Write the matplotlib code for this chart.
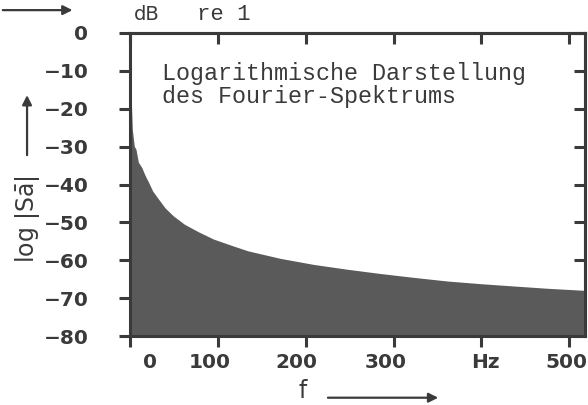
import matplotlib
matplotlib.use("Agg")
import matplotlib.pyplot as plt
import matplotlib.transforms as mtransforms
from matplotlib.patches import FancyArrowPatch

# Spectrum (frequency in Hz, level in dB re 1)
freq = [0, 0.6, 2.6, 4.9, 6.8, 9.5, 13.4, 17, 20.9, 26, 32.3, 40, 49.4,
        62, 78, 95, 116, 134, 171, 209, 248, 285, 322, 362, 400, 437,
        475, 514, 520]
level = [-8, -11.5, -25.4, -29.9, -30.7, -34.1, -35.5, -37.5, -39.3, -41.8,
         -43.8, -46.2, -48.3, -50.5, -52.5, -54.4, -56.1, -57.5, -59.5,
         -61.1, -62.4, -63.5, -64.5, -65.5, -66.2, -66.8, -67.4, -67.9, -68.0]

xticks = [0, 100, 200, 300, 400, 500]
xticklabels = ["0", "100", "200", "300", "Hz", "500"]
xlabel_shift = [20, -8, -9, -8, 4, -3]   # px, labels sit off their ticks
yticks = [0, -10, -20, -30, -40, -50, -60, -70, -80]

ink = "#3a3a3a"
fill_col = "#5a5a5a"

plt.rcParams.update({
    "font.family": "DejaVu Sans",
    "axes.linewidth": 2.2,
    "axes.edgecolor": ink,
    "xtick.color": ink,
    "ytick.color": ink,
})

fig = plt.figure(figsize=(5.88, 4.05), dpi=100)
ax = fig.add_axes([130 / 588, 1 - 336 / 405, 455 / 588, 303 / 405])

ax.fill_between(freq, level, -80, color=fill_col, lw=0)
ax.set_xlim(0, 518)
ax.set_ylim(-80, 0)

ax.set_xticks(xticks)
ax.set_xticklabels(xticklabels)
ax.set_yticks(yticks)
ax.set_yticklabels([str(v).replace("-", "\u2212") for v in yticks])
ax.tick_params(axis="both", labelsize=14.5, labelcolor=ink, width=2.2)
ax.tick_params(axis="y", direction="out", length=8, pad=22)
ax.tick_params(axis="x", direction="out", length=8, pad=4)
for lab in ax.get_xticklabels() + ax.get_yticklabels():
    lab.set_fontweight("bold")
for lab, dx in zip(ax.get_xticklabels(), xlabel_shift):
    lab.set_transform(lab.get_transform() +
                      mtransforms.ScaledTranslation(dx / 100, 0, fig.dpi_scale_trans))

# inward ticks on top and right frame
top = ax.secondary_xaxis("top")
top.set_xticks(xticks)
top.set_xticklabels([])
top.tick_params(direction="in", length=8, width=2.2, color=ink)
right = ax.secondary_yaxis("right")
right.set_yticks(yticks)
right.set_yticklabels([])
right.tick_params(direction="in", length=8, width=2.2, color=ink)

ax.text(0.070, 0.905, "Logarithmische Darstellung\ndes Fourier-Spektrums",
        transform=ax.transAxes, family="Liberation Mono", fontsize=16.8,
        color=ink, va="top", ha="left", linespacing=1.0)

# labels and arrows around the frame
fig.text(147 / 588, 0.965, "dB", fontsize=14, color=ink, ha="center", va="center")
fig.text(224 / 588, 0.965, "re 1", family="Liberation Mono", fontsize=16,
         color=ink, ha="center", va="center")
fig.text(0.046, 0.46, "log |S$\\bar{\\mathrm{a}}$|", rotation=90, fontsize=17,
         color=ink, ha="center", va="center")
fig.text(303 / 588, 0.035, "f", fontsize=17, color=ink, ha="center", va="center")

arrow = dict(arrowstyle="-|>", color=ink, lw=1.6, mutation_scale=14,
             transform=fig.transFigure)
fig.add_artist(FancyArrowPatch((0.0, 0.975), (0.128, 0.975), **arrow))
fig.add_artist(FancyArrowPatch((0.046, 0.61), (0.046, 0.772), **arrow))
fig.add_artist(FancyArrowPatch((0.553, 0.018), (0.750, 0.018), **arrow))

fig.savefig("out.png", dpi=100)
